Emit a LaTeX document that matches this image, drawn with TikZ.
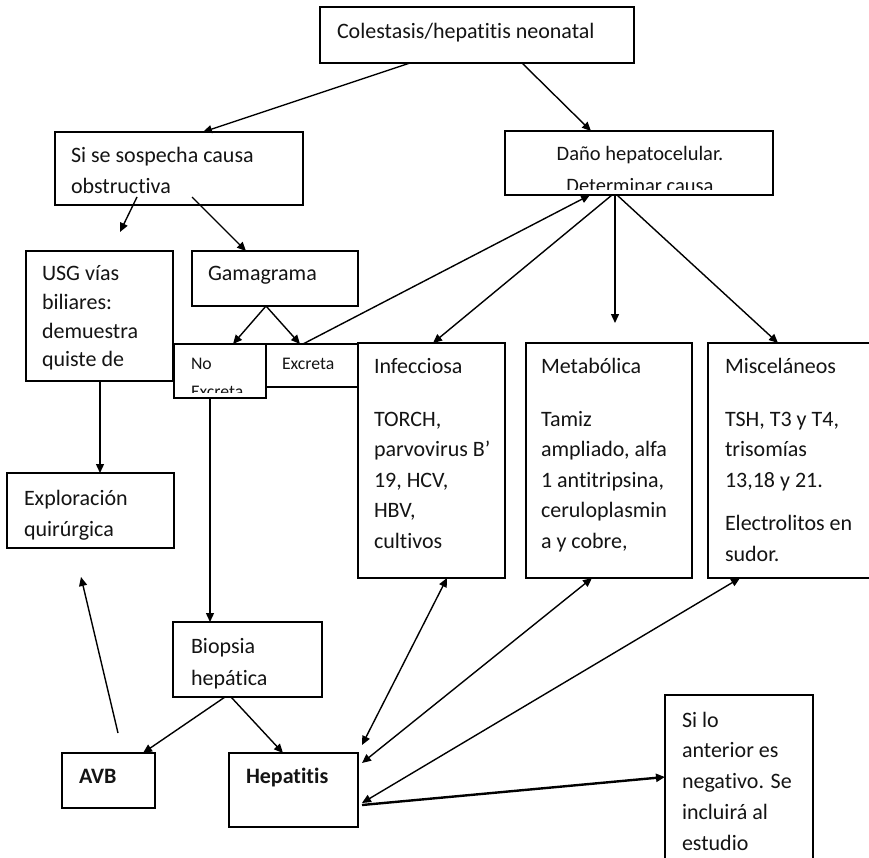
\documentclass[tikz,border=0pt]{standalone}
\usepackage{fontspec}
\setmainfont{Carlito}[Ligatures={NoCommon}]
\usetikzlibrary{arrows.meta,calc}
\begin{document}
\begin{tikzpicture}[x=1pt,y=-1pt,
  box/.style={draw=black, line width=1.5pt, inner sep=0pt, outer sep=0pt, anchor=north west},
  txt/.style={inner sep=0pt, outer sep=0pt, anchor=base west, text=black!92, font=\fontsize{22}{31}\selectfont},
  arr/.style={draw=black, line width=1.4pt, -{Triangle[length=9pt,width=8pt]}},
  darr/.style={draw=black, line width=1.4pt, {Triangle[length=9pt,width=8pt]}-{Triangle[length=9pt,width=8pt]}},
]
\useasboundingbox[fill=white] (0,0) rectangle (869,858);

% boxes
\node[box, minimum width=314pt, minimum height=56pt] (top) at (320,7) {};
\node[box, minimum width=248pt, minimum height=73pt] (sosp) at (55,132) {};
\node[box, minimum width=268pt, minimum height=64pt] (dano) at (505,131) {};
\node[box, minimum width=147pt, minimum height=130pt] (usg) at (26,251) {};
\node[box, minimum width=166pt, minimum height=55pt] (gama) at (192,251) {};
\node[box, minimum width=92pt, minimum height=54pt] (noex) at (174,344) {};
\node[box, minimum width=92pt, minimum height=43pt] (exc) at (266,344) {};
\node[box, minimum width=147pt, minimum height=235pt] (inf) at (358,343) {};
\node[box, minimum width=166pt, minimum height=235pt] (met) at (526,343) {};
\node[box, minimum width=170pt, minimum height=235pt] (misc) at (708,343) {};
\node[box, minimum width=167pt, minimum height=75pt] (expl) at (7,473) {};
\node[box, minimum width=149pt, minimum height=75pt] (biop) at (173,622) {};
\node[box, minimum width=93pt, minimum height=55pt] (avb) at (62,753) {};
\node[box, minimum width=129pt, minimum height=74pt] (hep) at (229,753) {};
\node[box, minimum width=148pt, minimum height=175pt] (silo) at (665,695) {};

% texts
\node[txt] (ttop) at (337,39) {Colestasis/hepatitis neonatal};
\node[txt] (tsosp) at (71,163) {\begin{tabular}[t]{@{}l@{}}Si se sospecha causa\\ obstructiva\end{tabular}};
\node[txt, anchor=base, font=\fontsize{20.5}{30}\selectfont] (tdano) at (640,161) {Daño hepatocelular.};
\begin{scope}
  \clip (dano.north west) rectangle ([yshift=5pt]dano.south east);
  \node[txt, anchor=base, font=\fontsize{20.5}{30}\selectfont] (tdano2) at (640,193) {Determinar causa};
\end{scope}
\node[txt, font=\fontsize{22}{28.5}\selectfont] (tusg) at (42,281) {\begin{tabular}[t]{@{}l@{}}USG vías\\ biliares:\\ demuestra\\ quiste de\end{tabular}};
\node[txt] (tgama) at (208,281) {Gamagrama};
\node[txt, font=\fontsize{17.7}{28}\selectfont] (tno) at (191,369) {No};
\begin{scope}
  \clip (noex.north west) rectangle ([yshift=6pt]noex.south east);
  \node[txt, font=\fontsize{17.7}{28}\selectfont] (tno2) at (191,397) {Excreta};
\end{scope}
\node[txt, font=\fontsize{17.7}{28}\selectfont] (texc) at (282,369) {Excreta};
\node[txt, font=\fontsize{22}{30.5}\selectfont] (tinf) at (374,373) {\begin{tabular}[t]{@{}l@{}}Infecciosa\\[22.5pt] TORCH,\\ parvovirus B'\\ 19, HCV,\\ HBV,\\ cultivos\end{tabular}};
\node[txt, font=\fontsize{22}{30.5}\selectfont] (tmet) at (541,373) {\begin{tabular}[t]{@{}l@{}}Metabólica\\[22.5pt] Tamiz\\ ampliado, alfa\\ 1 antitripsina,\\ ceruloplasmin\\ a y cobre,\end{tabular}};
\node[txt, font=\fontsize{22}{30.5}\selectfont] (tmisc) at (725,373) {\begin{tabular}[t]{@{}l@{}}Misceláneos\\[22.5pt] TSH, T3 y T4,\\ trisomías\\ 13,18 y 21.\\[13pt] Electrolitos en\\ sudor.\end{tabular}};
\node[txt] (texpl) at (24,505) {\begin{tabular}[t]{@{}l@{}}Exploración\\ quirúrgica\end{tabular}};
\node[txt, font=\fontsize{22}{32}\selectfont] (tbiop) at (191,653) {\begin{tabular}[t]{@{}l@{}}Biopsia\\ hepática\end{tabular}};
\node[txt, font=\fontsize{22}{31}\bfseries] (tavb) at (79,783) {AVB};
\node[txt, font=\fontsize{22}{31}\bfseries] (thep) at (246,783) {Hepatitis};
\node[txt, font=\fontsize{22}{30.75}\selectfont] (tsilo) at (682,727) {\begin{tabular}[t]{@{}l@{}}Si lo\\ anterior es\\ negativo. Se\\ incluirá al\\ estudio\end{tabular}};

% connectors
\coordinate (usgin) at (120,232);
\coordinate (metin) at (615,323);
\coordinate (explin) at (81,577);
\draw[arr] ([xshift=90pt]top.south west) -- ([xshift=148pt]sosp.north west);
\draw[arr] ([xshift=202pt]top.south west) -- ([xshift=86pt]dano.north west);
\draw[arr] ([xshift=82pt,yshift=8pt]sosp.south west) -- (usgin);
\draw[arr] ([xshift=137pt,yshift=8pt]sosp.south west) -- ([xshift=54pt]gama.north west);
\draw[arr] ([xshift=74pt]gama.south west) -- ([xshift=59pt]noex.north west);
\draw[arr] ([xshift=74pt]gama.south west) -- ([xshift=34pt]exc.north west);
\draw[arr] ([xshift=37pt]exc.north west) -- ([xshift=85pt]dano.south west);
\draw[arr] ([xshift=107pt]dano.south west) -- ([xshift=75pt]inf.north west);
\draw[arr] ([xshift=110pt]dano.south west) -- (metin);
\draw[arr] ([xshift=112pt]dano.south west) -- ([xshift=70pt]misc.north west);
\draw[arr] ([xshift=74pt]usg.south west) -- ([xshift=93pt]expl.north west);
\draw[arr] ([xshift=36pt]noex.south west) -- ([xshift=37pt]biop.north west);
\draw[arr] ([xshift=52pt]biop.south west) -- ([xshift=81pt]avb.north west);
\draw[arr] ([xshift=58pt]biop.south west) -- ([xshift=54pt]hep.north west);
\draw[arr] ([xshift=56pt,yshift=20pt]avb.north west) -- (explin);
\draw[darr] ([xshift=89pt]inf.south west) -- ([xshift=4pt,yshift=8pt]hep.north east);
\draw[darr] ([xshift=66pt]met.south west) -- ([xshift=4pt,yshift=-10pt]hep.north east);
\draw[darr] ([xshift=32pt]misc.south west) -- ([xshift=4pt,yshift=-50pt]hep.north east);
\draw[arr, line width=2.4pt] ([xshift=4pt,yshift=-52pt]hep.north east) -- ([yshift=-82pt]silo.north west);
\end{tikzpicture}
\end{document}
